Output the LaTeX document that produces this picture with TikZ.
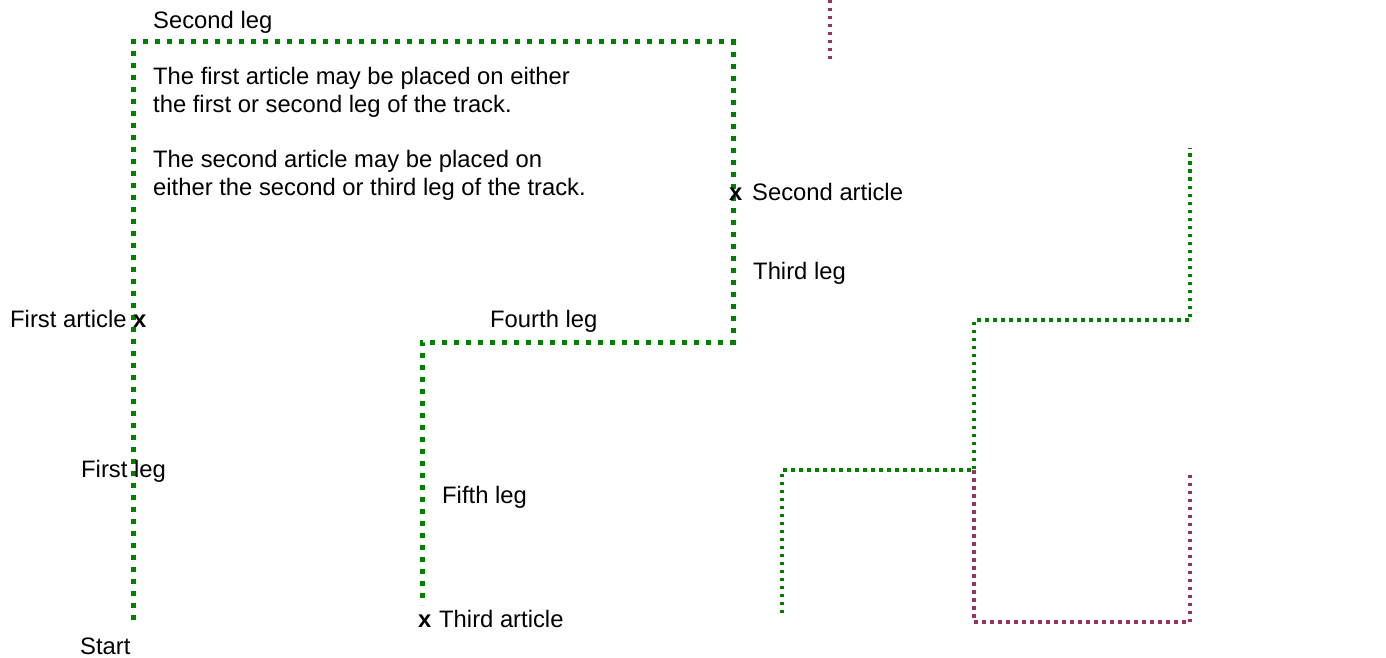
\documentclass[tikz,border=0pt]{standalone}
\usepackage{fontspec}
\setmainfont{Liberation Sans}
\definecolor{trackgreen}{HTML}{008000}
\definecolor{trackpurple}{HTML}{993366}
\begin{document}
\begin{tikzpicture}[x=1pt,y=-1pt,
  lbl/.style={anchor=base west,inner sep=0pt,font=\fontsize{23.8}{28}\selectfont},
  xmark/.style={anchor=base west,inner sep=0pt,font=\fontsize{23.8}{28}\selectfont\bfseries},
  bigtrack/.style={draw=trackgreen,line width=5pt,dash pattern=on 5pt off 7pt},
  smallgreen/.style={draw=trackgreen,line width=3.5pt,dash pattern=on 3.5pt off 4.5pt},
  smallpurple/.style={draw=trackpurple,line width=3.5pt,dash pattern=on 3.5pt off 4.5pt}]
\useasboundingbox (0,0) rectangle (1386,658);
% main track
\coordinate (s) at (133,620);
\coordinate (c1) at (133,42);
\coordinate (c2) at (733,42);
\coordinate (c3) at (733,342);
\coordinate (c4) at (422,342);
\coordinate (e) at (422,605);
\draw[bigtrack] (s) -- (c1) -- (c2) -- (c3) -- (c4) -- (e);
% small tracks on the right
\coordinate (g0) at (782,613);
\coordinate (g1) at (782,470);
\coordinate (g2) at (974,470);
\coordinate (g3) at (974,320);
\coordinate (g4) at (1190,320);
\coordinate (g5) at (1190,148);
\draw[smallgreen] (g0) -- (g1) -- (g2) -- (g3) -- (g4) -- (g5);
\coordinate (p1) at (974,622);
\coordinate (p2) at (1190,622);
\coordinate (p3) at (1190,470);
\draw[smallpurple] (g2) -- (p1) -- (p2) -- (p3);
\coordinate (q0) at (830,0);
\coordinate (q1) at (830,59);
\draw[smallpurple] (q0) -- (q1);
% labels
\node[lbl] (secondleg) at (153,29) {Second leg};
\node[lbl] (t1) at (153,85) {The first article may be placed on either};
\node[lbl] (t2) at (153,113) {the first or second leg of the track.};
\node[lbl] (t3) at (153,167) {The second article may be placed on};
\node[lbl] (t4) at (153,195) {either the second or third leg of the track.};
\node[xmark] (x2) at (729,200) {x};
\node[lbl] (secart) at (752,200) {Second article};
\node[lbl] (thirdleg) at (753,279) {Third leg};
\node[lbl] (firstart) at (10,327) {First article};
\node[xmark] (x1) at (133,327) {x};
\node[lbl] (fourthleg) at (490,327) {Fourth leg};
\node[lbl] (firstleg) at (81,477) {First leg};
\node[lbl] (fifthleg) at (442,503) {Fifth leg};
\node[xmark] (x3) at (418,627) {x};
\node[lbl] (thirdart) at (439,627) {Third article};
\node[lbl] (start) at (80,654) {Start};
\end{tikzpicture}
\end{document}
